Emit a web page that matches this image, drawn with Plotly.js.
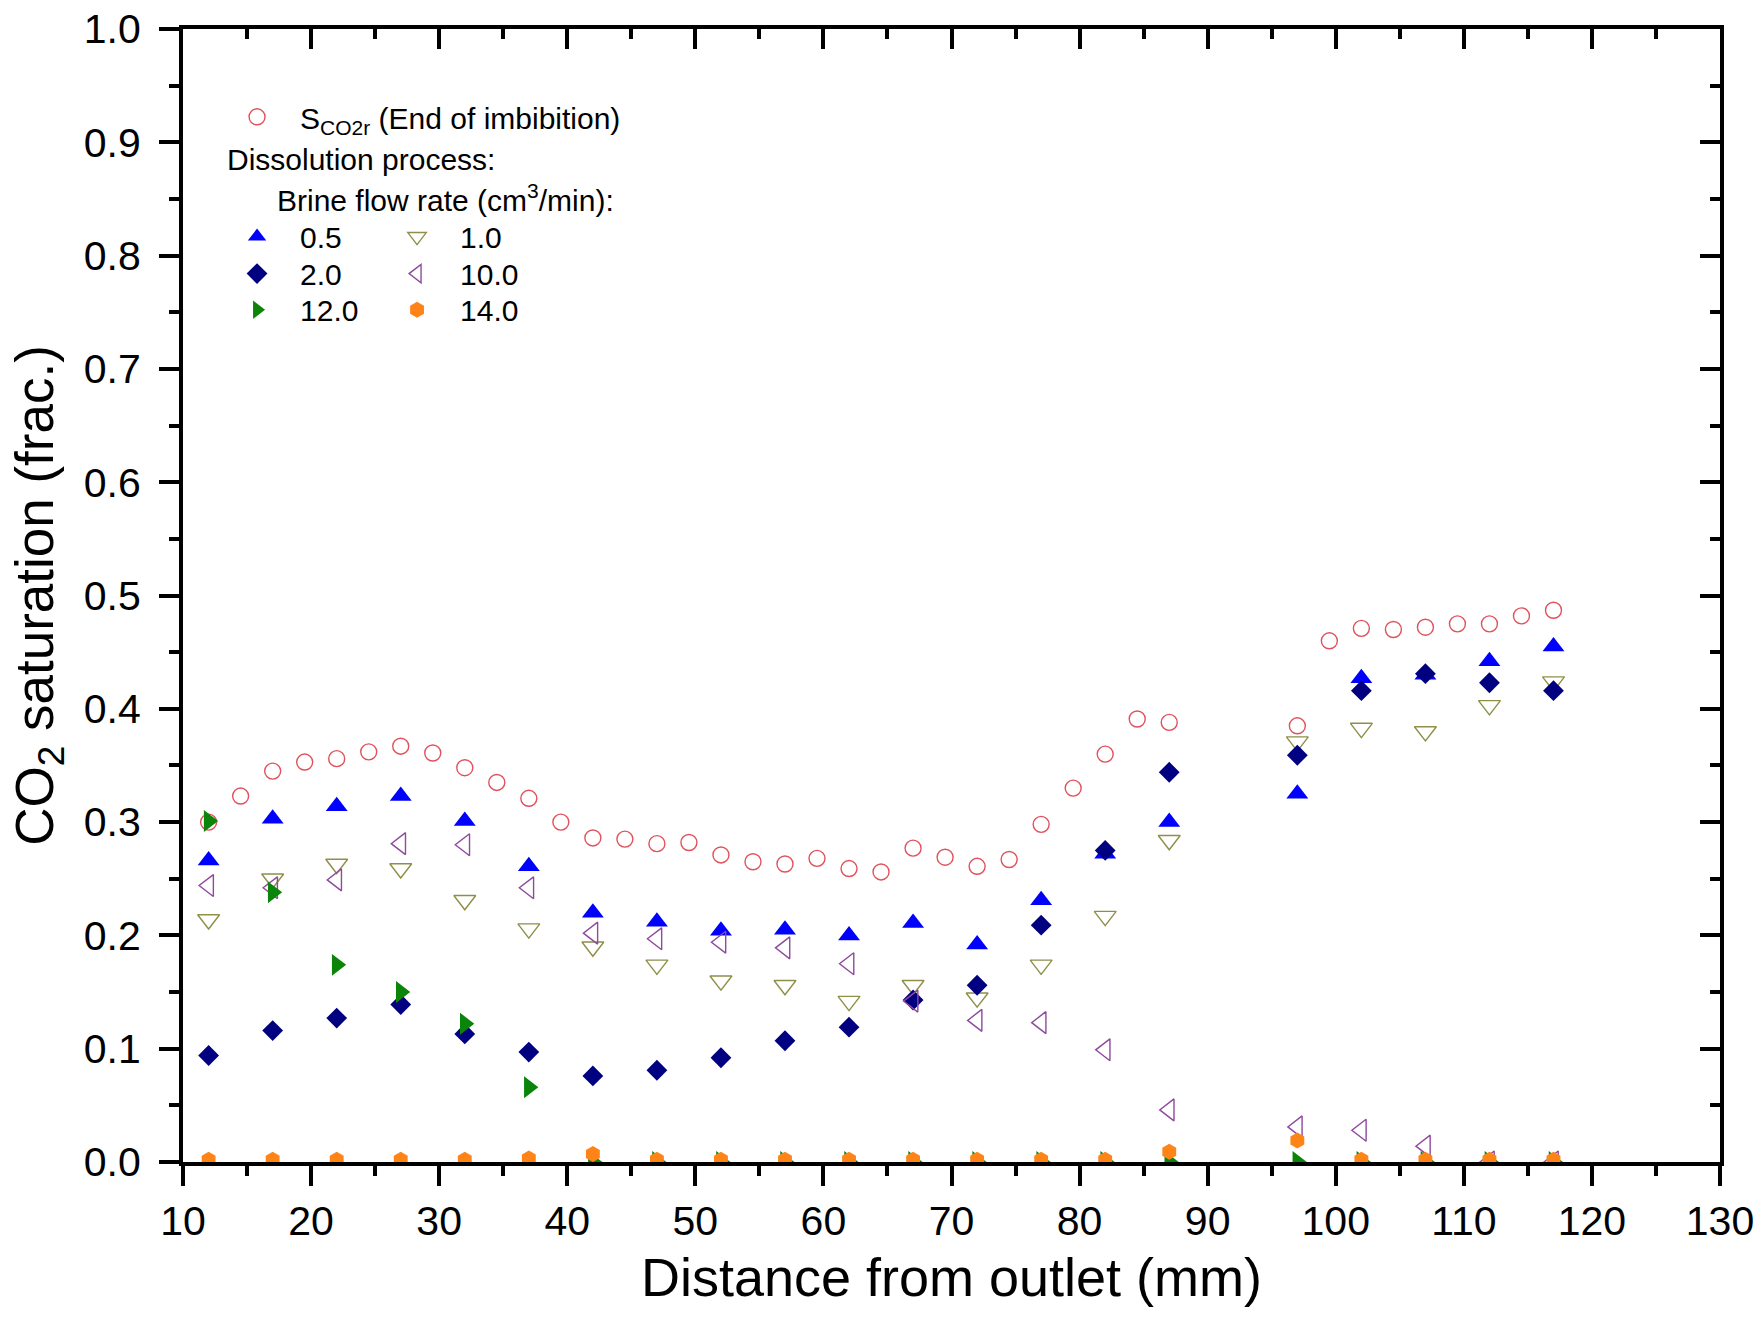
<!DOCTYPE html>
<html>
<head>
<meta charset="utf-8">
<script src="https://cdn.plot.ly/plotly-3.0.1.min.js"></script>
<style>html,body{margin:0;padding:0;background:#fff;}#chart{width:1762px;height:1317px;}</style>
</head>
<body>
<div id="chart"></div>
<script>
// Distance from outlet (mm) for the end-of-imbibition profile
const xImbibition = [12, 14.5, 17, 19.5, 22, 24.5, 27, 29.5, 32, 34.5, 37, 39.5, 42, 44.5, 47, 49.5, 52, 54.5, 57, 59.5,
  62, 64.5, 67, 69.5, 72, 74.5, 77, 79.5, 82, 84.5, 87, 97, 99.5, 102, 104.5, 107, 109.5, 112, 114.5, 117];
const sco2rEndImbibition = [0.300, 0.323, 0.345, 0.353, 0.356, 0.362, 0.367, 0.361, 0.348, 0.335, 0.321, 0.300, 0.286, 0.285,
  0.281, 0.282, 0.271, 0.265, 0.263, 0.268, 0.259, 0.256, 0.277, 0.269, 0.261, 0.267, 0.298, 0.330, 0.360, 0.391, 0.388,
  0.385, 0.460, 0.471, 0.470, 0.472, 0.475, 0.475, 0.482, 0.487];

// Distance from outlet (mm) for the dissolution profiles
const xDissolution = [12, 17, 22, 27, 32, 37, 42, 47, 52, 57, 62, 67, 72, 77, 82, 87, 97, 102, 107, 112, 117];
const rate05 = [0.266, 0.303, 0.314, 0.323, 0.301, 0.261, 0.220, 0.212, 0.204, 0.205, 0.200, 0.211, 0.192, 0.231,
  0.272, 0.300, 0.325, 0.427, 0.430, 0.442, 0.455];
const rate10 = [0.214, 0.250, 0.263, 0.259, 0.231, 0.206, 0.190, 0.174, 0.160, 0.156, 0.142, 0.156, 0.145, 0.174,
  0.217, 0.284, 0.371, 0.383, 0.380, 0.403, 0.424];
const rate20 = [0.094, 0.116, 0.127, 0.139, 0.113, 0.097, 0.076, 0.081, 0.092, 0.107, 0.119, 0.143, 0.156, 0.209,
  0.275, 0.344, 0.359, 0.416, 0.431, 0.423, 0.416];
const rate100 = [0.244, 0.242, 0.249, 0.281, 0.280, 0.242, 0.202, 0.197, 0.194, 0.189, 0.175, 0.142, 0.125, 0.123,
  0.099, 0.046, 0.031, 0.028, 0.014, 0.000, 0.000];
const rate120 = [0.301, 0.238, 0.174, 0.150, 0.122, 0.066, 0.000, 0.000, 0.000, 0.000, 0.000, 0.000, 0.000, 0.000,
  0.000, 0.000, 0.000, 0.000, 0.000, 0.000, 0.000];
const rate140 = [0.002, 0.002, 0.002, 0.002, 0.002, 0.003, 0.007, 0.002, 0.002, 0.002, 0.002, 0.002, 0.002, 0.002,
  0.002, 0.009, 0.019, 0.002, 0.002, 0.002, 0.002];

const legendLabels = ['S<sub>CO2r</sub> (End of imbibition)', '0.5', '1.0', '2.0', '10.0', '12.0', '14.0'];
const xTickVals = [10, 20, 30, 40, 50, 60, 70, 80, 90, 100, 110, 120, 130];
const yTickVals = [0.0, 0.1, 0.2, 0.3, 0.4, 0.5, 0.6, 0.7, 0.8, 0.9, 1.0];

const FONT = 'Liberation Sans, Arial, sans-serif';

function series(x, y, name, legend, symbol, color, size, openLine) {
  const m = {symbol: symbol, size: size, color: color};
  if (openLine) m.line = {color: color, width: openLine};
  else m.line = {width: 0};
  return {x: x, y: y, name: name, legend: legend, type: 'scatter', mode: 'markers',
          marker: m, cliponaxis: true, hoverinfo: 'x+y+name'};
}

const traces = [
  series(xImbibition, sco2rEndImbibition, legendLabels[0], 'legend', 'circle-open', '#e0525c', 16, 1.4),
  series(xDissolution, rate05, legendLabels[1], 'legend2', 'triangle-up', '#0000ff', 19),
  series(xDissolution, rate10, legendLabels[2], 'legend5', 'triangle-down-open', '#8f8f4a', 19, 1.4),
  series(xDissolution, rate20, legendLabels[3], 'legend3', 'diamond', '#000080', 16),
  series(xDissolution, rate100, legendLabels[4], 'legend6', 'triangle-left-open', '#8e4a9c', 19, 1.4),
  series(xDissolution, rate120, legendLabels[5], 'legend4', 'triangle-right', '#0a850a', 19),
  series(xDissolution, rate140, legendLabels[6], 'legend7', 'hexagon', '#ff8417', 16),
  // invisible companion so the top and right frame axes are drawn
  {x: xImbibition, y: sco2rEndImbibition, xaxis: 'x2', yaxis: 'y2', type: 'scatter', mode: 'markers',
   marker: {opacity: 0, size: 1}, showlegend: false, hoverinfo: 'skip'}
];

function leg(x, y) {
  return {x: x, y: y, xanchor: 'left', yanchor: 'middle', xref: 'paper', yref: 'paper',
          bgcolor: 'rgba(0,0,0,0)', borderwidth: 0, itemwidth: 76,
          font: {family: FONT, size: 30, color: '#000'}};
}

const axisCommon = {
  showline: true, linecolor: '#000', linewidth: 4, mirror: false,
  showgrid: false, zeroline: false, tickcolor: '#000', tickwidth: 4, ticklen: 20,
  tickfont: {family: FONT, size: 41, color: '#000'}, automargin: false
};

const layout = {
  width: 1762, height: 1317,
  margin: {l: 183, r: 42, t: 29, b: 155, pad: 0},
  paper_bgcolor: '#fff', plot_bgcolor: '#fff',
  font: {family: FONT, color: '#000'},
  showlegend: true,
  xaxis: Object.assign({}, axisCommon, {
    range: [10, 130], tickmode: 'array', tickvals: xTickVals, ticktext: xTickVals.map(String),
    ticks: 'outside', ticklabelstandoff: 0,
    minor: {dtick: 5, tick0: 10, ticks: 'outside', ticklen: 10, tickwidth: 4, tickcolor: '#000', showgrid: false},
    title: {text: 'Distance from outlet (mm)', font: {family: FONT, size: 54, color: '#000'}, standoff: 16}
  }),
  yaxis: Object.assign({}, axisCommon, {
    range: [0, 1.0], tickmode: 'array', tickvals: yTickVals, ticktext: yTickVals.map(v => v.toFixed(1)),
    ticks: 'outside', ticklabelstandoff: 10,
    minor: {dtick: 0.05, tick0: 0, ticks: 'outside', ticklen: 10, tickwidth: 4, tickcolor: '#000', showgrid: false},
    title: {text: 'CO<sub>2</sub> saturation (frac.)', font: {family: FONT, size: 53, color: '#000'}, standoff: 14}
  }),
  xaxis2: Object.assign({}, axisCommon, {
    overlaying: 'x', anchor: 'y2', side: 'top', range: [10, 130], tickmode: 'array', tickvals: xTickVals,
    ticks: 'inside', showticklabels: false,
    minor: {dtick: 5, tick0: 10, ticks: 'inside', ticklen: 10, tickwidth: 4, tickcolor: '#000', showgrid: false}
  }),
  yaxis2: Object.assign({}, axisCommon, {
    overlaying: 'y', anchor: 'x2', side: 'right', range: [0, 1.0], tickmode: 'array', tickvals: yTickVals,
    ticks: 'inside', showticklabels: false,
    minor: {dtick: 0.05, tick0: 0, ticks: 'inside', ticklen: 10, tickwidth: 4, tickcolor: '#000', showgrid: false}
  }),
  legend: leg(0.0202, 0.9225),
  legend2: leg(0.0202, 0.8168),
  legend3: leg(0.0202, 0.7841),
  legend4: leg(0.0202, 0.7523),
  legend5: leg(0.1243, 0.8168),
  legend6: leg(0.1243, 0.7841),
  legend7: leg(0.1243, 0.7523),
  annotations: [
    {text: 'Dissolution process:', xref: 'paper', yref: 'paper', x: 0.0273, y: 0.8846,
     xanchor: 'left', yanchor: 'middle', showarrow: false, font: {family: FONT, size: 30, color: '#000'}},
    {text: 'Brine flow rate (cm<sup>3</sup>/min):', xref: 'paper', yref: 'paper', x: 0.0599, y: 0.851,
     xanchor: 'left', yanchor: 'middle', showarrow: false, font: {family: FONT, size: 30, color: '#000'}}
  ]
};

Plotly.newPlot('chart', traces, layout, {displayModeBar: false, staticPlot: true});
</script>
</body>
</html>
